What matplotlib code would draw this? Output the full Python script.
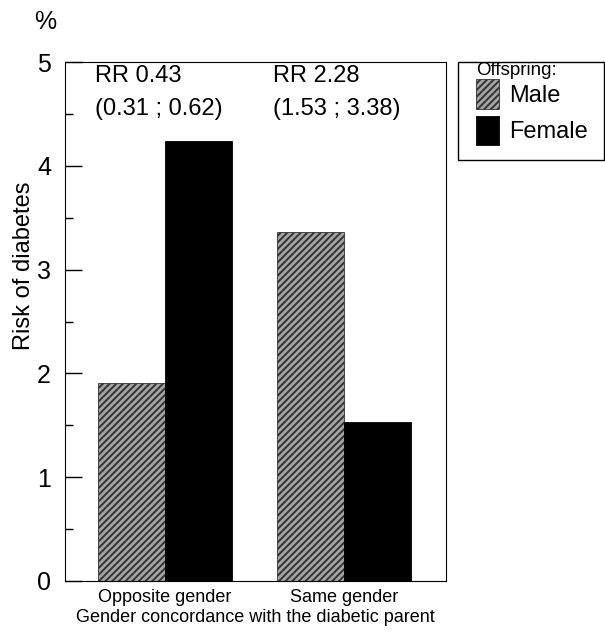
import matplotlib
matplotlib.use("Agg")
import matplotlib.pyplot as plt
from matplotlib.patches import Rectangle
import numpy as np

plt.rcParams['font.family'] = ['Liberation Sans', 'DejaVu Sans']
plt.rcParams['hatch.linewidth'] = 1.4
plt.rcParams['hatch.color'] = '#5c5c5c'

groups = ["Opposite gender", "Same gender"]
male = [1.91, 3.36]
female = [4.24, 1.53]
rr_labels = ["RR 0.43", "RR 2.28"]
ci_labels = ["(0.31 ; 0.62)", "(1.53 ; 3.38)"]

fig = plt.figure(figsize=(6.05, 6.33), dpi=100)
ax = fig.add_axes([65 / 605, 1 - 581 / 633, 381 / 605, 519 / 633])

x = np.arange(len(groups))
w = 0.374
b1 = ax.bar(x - w / 2, male, w, color='#a4a4a4', edgecolor='#333333',
            linewidth=0.6, hatch='/////', label='Male')
b2 = ax.bar(x + w / 2, female, w, color='black', edgecolor='black',
            linewidth=0.6, label='Female')

ax.set_xlim(-0.559, 1.570)
ax.set_ylim(0, 5)
ax.set_yticks([0, 1, 2, 3, 4, 5])
ax.set_yticks(np.arange(0.5, 5, 1), minor=True)
ax.tick_params(axis='y', which='major', direction='in', length=12, width=1,
               labelsize=18, pad=10)
ax.tick_params(axis='y', which='minor', direction='in', length=6, width=1)
ax.set_xticks(x)
ax.set_xticklabels(groups, fontsize=13)
ax.tick_params(axis='x', length=0, pad=6)
ax.set_xlabel("Gender concordance with the diabetic parent", fontsize=13, labelpad=2)
ax.set_ylabel("Risk of diabetes", fontsize=17)
ax.yaxis.set_label_coords((35 - 65) / 381, (581 - 266) / 519)

for i in range(len(groups)):
    ax.text(x[i] - w - 0.02, 4.81, rr_labels[i], fontsize=17, va='baseline', ha='left')
    ax.text(x[i] - w - 0.02, 4.49, ci_labels[i], fontsize=17, va='baseline', ha='left')

fig.text(45 / 605, 1 - 22 / 633, "%", fontsize=18, ha='center', va='center')

# legend box drawn by hand so the entries can sit inside it like the original
fig.patches.append(Rectangle((458 / 605, 1 - 160 / 633), 146 / 605, 98 / 633,
                             transform=fig.transFigure, fill=False,
                             edgecolor='black', linewidth=1))
leg = fig.legend(handles=[b1, b2], loc='upper left',
                 bbox_to_anchor=(476 / 605, 1 - 62 / 633), fontsize=17,
                 title="Offspring:", title_fontsize=13.5, alignment='left',
                 frameon=False, borderaxespad=0, borderpad=0,
                 handlelength=0.97, handleheight=1.55,
                 handletextpad=0.45, labelspacing=0.3)
leg._legend_box.sep = 0

fig.savefig("out.png", dpi=100)
